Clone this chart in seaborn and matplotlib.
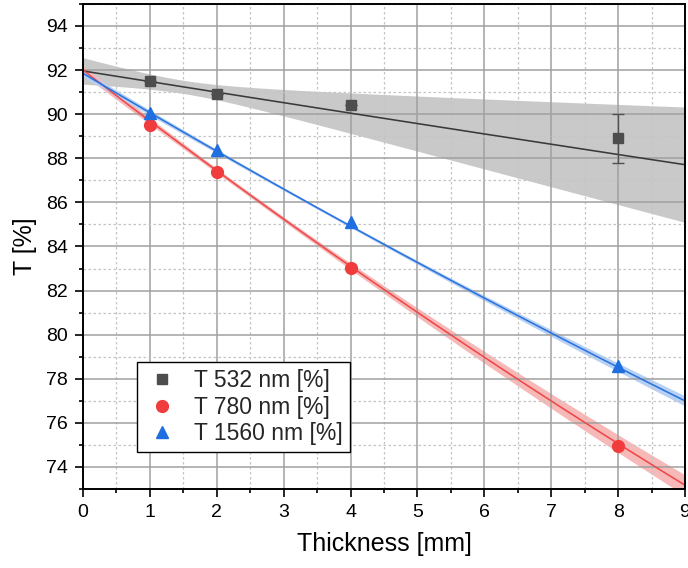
import numpy as np
import pandas as pd
import matplotlib
matplotlib.use("Agg")
import matplotlib.pyplot as plt
from matplotlib.ticker import MultipleLocator
import seaborn as sns

# Measured transmission vs. sample thickness
thickness = [1, 2, 4, 8]
t532 = [91.49, 90.92, 90.43, 88.90]
t532_err = [0.0, 0.0, 0.0, 1.12]
t780 = [89.49, 87.38, 83.03, 74.96]
t1560 = [90.05, 88.39, 85.10, 78.59]

series_names = ["T 532 nm [%]", "T 780 nm [%]", "T 1560 nm [%]"]
series_values = [t532, t780, t1560]
point_colors = ["#4d4d4d", "#f03c3c", "#1f6fe0"]
line_colors = ["#3a3a3a", "#f04848", "#2a74e0"]
band_colors = ["#c9c9c9", "#f7b8b8", "#b8d0f4"]
markers = ["s", "o", "^"]
marker_sizes = [7, 8.5, 9]

# Beer-Lambert fits T = T0 * exp(-alpha * d)
fit_t0 = [91.96, 92.00, 91.85]
fit_alpha = [0.00526, 0.02544, 0.0196]
# 95% confidence half-width: sqrt(a + b * (d - c)^2)
band_a = [0.09, 0.01, 0.004]
band_b = [0.12, 0.005, 0.0016]
band_c = [1.5, 2.5, 3.5]

sns.set_theme(style="white")
plt.rcParams["font.family"] = ["Liberation Sans", "DejaVu Sans"]

fig = plt.figure(figsize=(6.88, 5.68), dpi=100)
ax = fig.add_axes([0.1206, 0.1391, 0.875, 0.854])
ax.set_axisbelow("line")

d = np.linspace(0, 9, 300)
for i, name in enumerate(series_names):
    fit = fit_t0[i] * np.exp(-fit_alpha[i] * d)
    hw = np.sqrt(band_a[i] + band_b[i] * (d - band_c[i]) ** 2)
    ax.fill_between(d, fit - hw, fit + hw, color=band_colors[i], lw=0, zorder=1)
    sns.lineplot(x=d, y=fit, ax=ax, color=line_colors[i], lw=1.15, zorder=2)

df = pd.DataFrame({
    "Thickness": np.tile(thickness, 3),
    "T": np.concatenate(series_values),
    "series": np.repeat(series_names, len(thickness)),
})

ax.errorbar(thickness, t532, yerr=t532_err, fmt="none", ecolor="#505050",
            elinewidth=1.0, capsize=4.5, capthick=1.0, zorder=3)

for i, name in enumerate(series_names):
    sub = df[df["series"] == name]
    ax.plot(sub["Thickness"], sub["T"], ls="none", marker=markers[i],
            ms=marker_sizes[i], color=point_colors[i], mec=point_colors[i],
            zorder=4, label=name)

sns.despine(ax=ax, top=False, right=False)
for sp in ax.spines.values():
    sp.set_color("black")
    sp.set_linewidth(1.4)

ax.set_xlim(0, 9)
ax.set_ylim(73, 95)
ax.xaxis.set_major_locator(MultipleLocator(1))
ax.xaxis.set_minor_locator(MultipleLocator(0.5))
ax.yaxis.set_major_locator(MultipleLocator(2))
ax.yaxis.set_minor_locator(MultipleLocator(1))
ax.set_yticks(np.arange(74, 95, 2))

ax.grid(which="major", color="#a0a0a0", lw=1.1, ls="-")
ax.grid(which="minor", color="#c4c4c4", lw=0.9, ls=(0, (2, 2)))

ax.tick_params(which="major", direction="out", length=6, width=1.2,
               color="black", labelsize=14, pad=5,
               bottom=True, left=True, top=False, right=False)
ax.tick_params(which="minor", direction="out", length=3, width=1.2,
               color="black", bottom=True, left=True, top=False, right=False)
for lab in ax.get_xticklabels() + ax.get_yticklabels():
    lab.set_color("black")

ax.set_xlabel("Thickness [mm]", fontsize=18, color="black", labelpad=8)
ax.set_ylabel("T [%]", fontsize=18, color="black", labelpad=6)

leg = ax.legend(loc="lower left", bbox_to_anchor=(0.0897, 0.0763),
                borderaxespad=0, fontsize=16.5, frameon=True, fancybox=False,
                edgecolor="black", framealpha=1, handletextpad=0.6,
                labelspacing=0.15, borderpad=0.3, handlelength=1.6)
leg.get_frame().set_linewidth(1.0)

fig.savefig("out.png", dpi=100)
